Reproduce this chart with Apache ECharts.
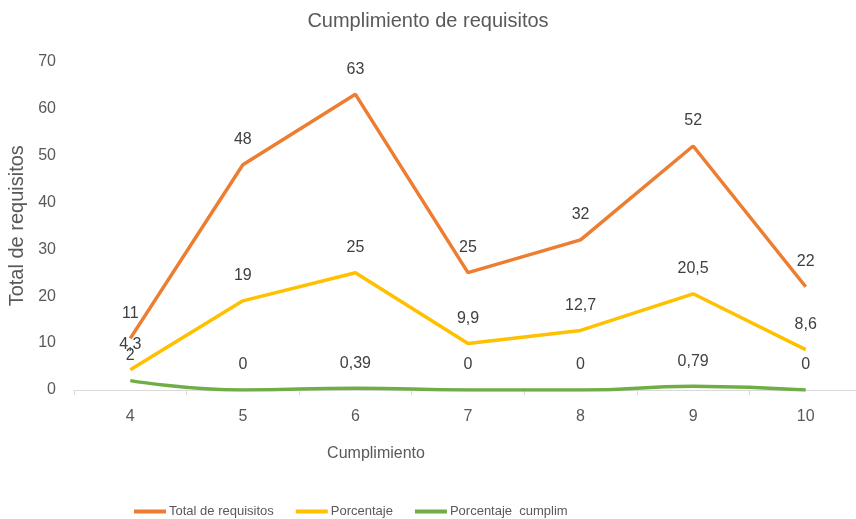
<!DOCTYPE html>
<html>
<head>
<meta charset="utf-8">
<script src="https://cdn.jsdelivr.net/npm/echarts@6/dist/echarts.min.js"></script>
<style>html,body{margin:0;padding:0;background:#fff}#chart{width:856px;height:519px}</style>
</head>
<body>
<div id="chart"></div>
<script>
const categories = ['4', '5', '6', '7', '8', '9', '10'];
const totalRequisitos = [11, 48, 63, 25, 32, 52, 22];
const porcentaje = [4.3, 19, 25, 9.9, 12.7, 20.5, 8.6];
const porcentajeCumplim = [2, 0, 0.39, 0, 0, 0.79, 0];
const yTicks = [0, 10, 20, 30, 40, 50, 60, 70];

const FONT = "'Liberation Sans', Arial, sans-serif";
const fmt = p => String(p.value).replace('.', ',');
const label = {
  show: true, position: 'top', distance: 17, formatter: fmt,
  color: '#404040', fontSize: 16, fontFamily: FONT
};
const chart = echarts.init(document.getElementById('chart'));
chart.setOption({
  backgroundColor: '#fff',
  animation: false,
  title: {
    text: 'Cumplimiento de requisitos', left: 'center', top: 6,
    textStyle: { color: '#595959', fontSize: 20, fontWeight: 'normal', fontFamily: FONT }
  },
  legend: {
    left: 129, top: 500, itemWidth: 32, itemHeight: 4, itemGap: 22, icon: 'rect',
    textStyle: { color: '#595959', fontSize: 13, fontFamily: FONT, padding: [0, 0, 0, -2] }
  },
  grid: { left: 74, top: 61.5, width: 788, height: 328.5, outerBoundsMode: 'none', containLabel: false },
  xAxis: {
    type: 'category', data: categories, boundaryGap: true,
    name: 'Cumplimiento', nameLocation: 'middle', nameGap: 56,
    nameTextStyle: { color: '#595959', fontSize: 16, fontFamily: FONT, padding: [0, 184, 0, 0] },
    axisLine: { lineStyle: { color: '#d9d9d9', width: 1 } },
    axisTick: { show: true, length: 5, lineStyle: { color: '#d9d9d9' } },
    axisLabel: { color: '#595959', fontSize: 16, fontFamily: FONT, margin: 19 }
  },
  yAxis: {
    type: 'value', min: yTicks[0], max: yTicks[yTicks.length - 1], interval: 10,
    name: 'Total de requisitos', nameLocation: 'middle', nameGap: 39, nameRotate: 90,
    nameTextStyle: { color: '#595959', fontSize: 20, fontFamily: FONT },
    axisLine: { show: false }, axisTick: { show: false }, splitLine: { show: false },
    axisLabel: { color: '#595959', fontSize: 16, fontFamily: FONT, margin: 18 }
  },
  series: [
    { name: 'Total de requisitos', type: 'line', data: totalRequisitos,
      symbol: 'circle', symbolSize: 0.1, showSymbol: true,
      lineStyle: { color: '#ED7D31', width: 3.5 }, itemStyle: { color: '#ED7D31' }, label },
    { name: 'Porcentaje', type: 'line', data: porcentaje,
      symbol: 'circle', symbolSize: 0.1, showSymbol: true,
      lineStyle: { color: '#FFC000', width: 3.5 }, itemStyle: { color: '#FFC000' }, label },
    { name: 'Porcentaje  cumplim', type: 'line', data: porcentajeCumplim, smooth: true,
      symbol: 'circle', symbolSize: 0.1, showSymbol: true,
      lineStyle: { color: '#70AD47', width: 3.5 }, itemStyle: { color: '#70AD47' }, label }
  ]
});
</script>
</body>
</html>
